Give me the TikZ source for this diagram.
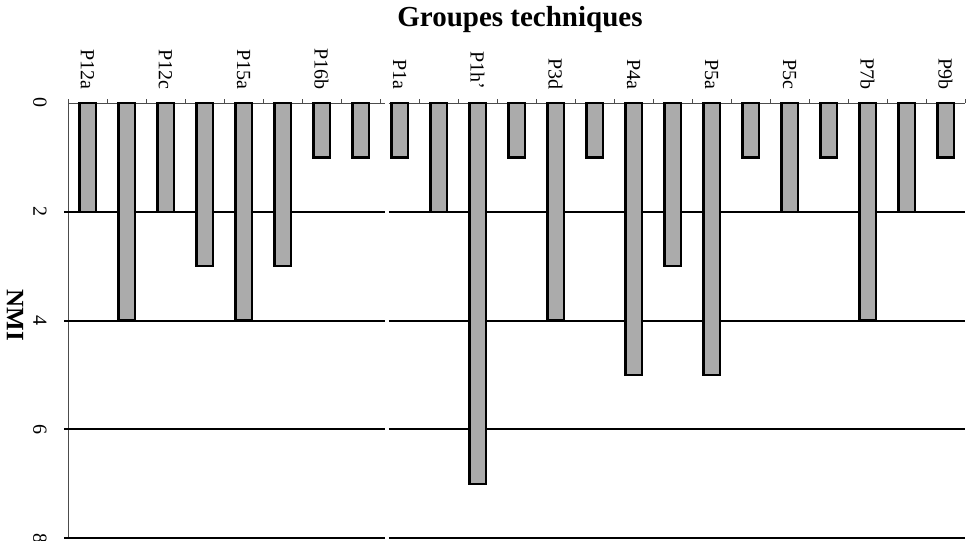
\documentclass[tikz,border=0pt]{standalone}
\usepackage{fontspec}
\setmainfont{Liberation Serif}
\usetikzlibrary{positioning}

\tikzset{
 nmibar/.style={draw=black,line width=1.2pt,fill=black!33},
 gridline/.style={black,line width=1pt},
 axisline/.style={black!70,line width=0.45pt},
 grouplabel/.style={rotate=-90,anchor=east,inner sep=0pt,font=\fontsize{10}{12}\selectfont},
 valuelabel/.style={rotate=-90,inner sep=0pt,font=\fontsize{10}{12}\selectfont}
}

\begin{document}
\begin{tikzpicture}[x=19.5pt,y=-27.2pt]
 \useasboundingbox (-1.744,-1.893) rectangle (23.205,8.051);
 % title and axis name
 \node[font=\bfseries\fontsize{14.5}{16}\selectfont] (title) at (11.59,-1.53) {Groupes techniques};
 \node[rotate=-90,font=\bfseries\fontsize{12.5}{14}\selectfont] (nmi) at (-1.36,3.9) {NMI};
 % axes and grid (split where the two halves meet)
 \draw[axisline] (0,0) -- (8.13,0) (8.23,0) -- (23,0);
 \draw[axisline] (0,0) -- (0,8);
 \foreach \k in {0,...,23} \draw[axisline] (\k,0) -- (\k,-0.07);
 \draw[gridline] (-0.1,2) -- (8.13,2) (8.23,2) -- (23,2);
 \draw[gridline] (-0.1,4) -- (8.13,4) (8.23,4) -- (23,4);
 \draw[gridline] (-0.1,6) -- (8.13,6) (8.23,6) -- (23,6);
 \draw[gridline] (-0.1,8) -- (8.13,8) (8.23,8) -- (23,8);
 \node[valuelabel] (v0) at (-0.72,0) {0};
 \node[valuelabel] (v2) at (-0.72,2) {2};
 \node[valuelabel] (v4) at (-0.72,4) {4};
 \node[valuelabel] (v6) at (-0.72,6) {6};
 \node[valuelabel] (v8) at (-0.72,8) {8};
 % bars
 \draw[nmibar] (0.29,0) rectangle (0.71,2);
 \draw[nmibar] (1.29,0) rectangle (1.71,4);
 \draw[nmibar] (2.29,0) rectangle (2.71,2);
 \draw[nmibar] (3.29,0) rectangle (3.71,3);
 \draw[nmibar] (4.29,0) rectangle (4.71,4);
 \draw[nmibar] (5.29,0) rectangle (5.71,3);
 \draw[nmibar] (6.29,0) rectangle (6.71,1);
 \draw[nmibar] (7.29,0) rectangle (7.71,1);
 \draw[nmibar] (8.29,0) rectangle (8.71,1);
 \draw[nmibar] (9.29,0) rectangle (9.71,2);
 \draw[nmibar] (10.29,0) rectangle (10.71,7);
 \draw[nmibar] (11.29,0) rectangle (11.71,1);
 \draw[nmibar] (12.29,0) rectangle (12.71,4);
 \draw[nmibar] (13.29,0) rectangle (13.71,1);
 \draw[nmibar] (14.29,0) rectangle (14.71,5);
 \draw[nmibar] (15.29,0) rectangle (15.71,3);
 \draw[nmibar] (16.29,0) rectangle (16.71,5);
 \draw[nmibar] (17.29,0) rectangle (17.71,1);
 \draw[nmibar] (18.29,0) rectangle (18.71,2);
 \draw[nmibar] (19.29,0) rectangle (19.71,1);
 \draw[nmibar] (20.29,0) rectangle (20.71,4);
 \draw[nmibar] (21.29,0) rectangle (21.71,2);
 \draw[nmibar] (22.29,0) rectangle (22.71,1);
 % group names
 \node[grouplabel] (gP12a) at (0.5,-0.24) {P12a};
 \node[grouplabel] (gP12c) at (2.5,-0.24) {P12c};
 \node[grouplabel] (gP15a) at (4.5,-0.24) {P15a};
 \node[grouplabel] (gP16b) at (6.5,-0.24) {P16b};
 \node[grouplabel] (gP1a) at (8.5,-0.24) {P1a};
 \node[grouplabel] (gP1h) at (10.5,-0.24) {P1h'};
 \node[grouplabel] (gP3d) at (12.5,-0.24) {P3d};
 \node[grouplabel] (gP4a) at (14.5,-0.24) {P4a};
 \node[grouplabel] (gP5a) at (16.5,-0.24) {P5a};
 \node[grouplabel] (gP5c) at (18.5,-0.24) {P5c};
 \node[grouplabel] (gP7b) at (20.5,-0.24) {P7b};
 \node[grouplabel] (gP9b) at (22.5,-0.24) {P9b};
\end{tikzpicture}
\end{document}
